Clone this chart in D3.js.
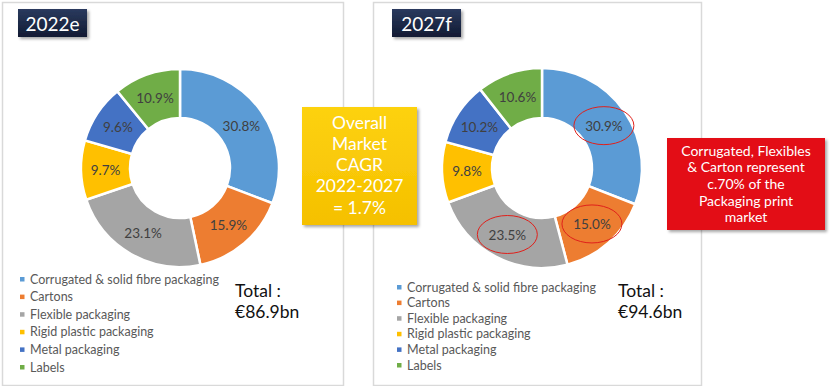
<!DOCTYPE html>
<html><head><meta charset="utf-8">
<script src="https://cdn.jsdelivr.net/npm/d3@7"></script>
<style>
html,body{margin:0;padding:0;background:#fff;}
svg{display:block;}
</style></head>
<body>
<svg id="chart" width="835" height="386"></svg>
<script>
const categories = ["Corrugated & solid fibre packaging","Cartons","Flexible packaging","Rigid plastic packaging","Metal packaging","Labels"];
const colors = ["#5B9BD5","#ED7D31","#A5A5A5","#FFC000","#4472C4","#70AD47"];
const values2022 = [30.8, 15.9, 23.1, 9.7, 9.6, 10.9];
const values2027 = [30.9, 15.0, 23.5, 9.8, 10.2, 10.6];
const years = ["2022e", "2027f"];
const totals = ["€86.9bn", "€94.6bn"];
const highlighted2027 = [0, 1, 2];
const cagrLines = ["Overall", "Market", "CAGR", "2022-2027", "= 1.7%"];
const noteLines = ["Corrugated, Flexibles", "& Carton represent", "c.70% of the", "Packaging print", "market"];

const FONT = "Lato, 'Open Sans', sans-serif";
const svg = d3.select("#chart");
const defs = svg.append("defs");
const f = defs.append("filter").attr("id","shadow").attr("x","-20%").attr("y","-20%").attr("width","150%").attr("height","150%");
f.append("feDropShadow").attr("dx",2).attr("dy",2).attr("stdDeviation",1.5).attr("flood-color","#000").attr("flood-opacity",0.35);
const g1 = defs.append("linearGradient").attr("id","navy").attr("x1",0).attr("y1",0).attr("x2",0).attr("y2",1);
g1.append("stop").attr("offset","0%").attr("stop-color","#2a3a5e");
g1.append("stop").attr("offset","100%").attr("stop-color","#111b33");
const g2 = defs.append("linearGradient").attr("id","gold").attr("x1",0).attr("y1",0).attr("x2",0).attr("y2",1);
g2.append("stop").attr("offset","0%").attr("stop-color","#fdd20f");
g2.append("stop").attr("offset","100%").attr("stop-color","#f5c000");

const panels = [
  {x:2, y:2, w:341, h:383, cx:180, cy:168, ro:99, ri:50, title:{x:18,y:9}, legX:22, legY:279, legStep:17.6, totX:235, totY:290},
  {x:373, y:2, w:328, h:383, cx:542, cy:168, ro:100, ri:50, title:{x:392,y:9}, legX:399, legY:287, legStep:15.6, totX:618, totY:290}
];
const datasets = [values2022, values2027];

panels.forEach((p, i) => {
  svg.append("rect").attr("x",p.x+0.5).attr("y",p.y+0.5).attr("width",p.w).attr("height",p.h)
    .attr("fill","#fff").attr("stroke","#d9d9d9").attr("stroke-width",1.5);
});

panels.forEach((p, i) => {
  const pie = d3.pie().sort(null).value(d => d)(datasets[i]);
  const arc = d3.arc().innerRadius(p.ri).outerRadius(p.ro);
  const labelArc = d3.arc().innerRadius((p.ri+p.ro)/2).outerRadius((p.ri+p.ro)/2);
  const g = svg.append("g").attr("transform",`translate(${p.cx},${p.cy})`);
  g.selectAll("path").data(pie).join("path")
    .attr("d", arc).attr("fill",(d,j)=>colors[j]).attr("stroke","#fff").attr("stroke-width",2.5);
  g.selectAll("text").data(pie).join("text")
    .attr("transform", d => `translate(${labelArc.centroid(d)})`)
    .attr("text-anchor","middle").attr("dominant-baseline","central")
    .attr("font-family",FONT).attr("font-size",13.5)
    .attr("fill","#404040")
    .text(d => d.data.toFixed(1) + "%");

  if (i === 1) {
    g.selectAll("ellipse").data(highlighted2027.map(k => pie[k])).join("ellipse")
      .attr("cx", d => labelArc.centroid(d)[0]).attr("cy", d => labelArc.centroid(d)[1])
      .attr("rx", 30).attr("ry", 19).attr("fill","none").attr("stroke","#e0201b").attr("stroke-width",1);
  }

  // title
  svg.append("rect").attr("x",p.title.x).attr("y",p.title.y).attr("width",69).attr("height",28)
    .attr("fill","url(#navy)").attr("filter","url(#shadow)");
  svg.append("text").attr("x",p.title.x+34.5).attr("y",p.title.y+14).attr("text-anchor","middle")
    .attr("dominant-baseline","central").attr("font-family",FONT).attr("font-size",19)
    .attr("fill","#fff").text(years[i]);

  // legend
  const leg = svg.append("g");
  categories.forEach((c, j) => {
    const y = p.legY + j*p.legStep;
    leg.append("rect").attr("x",p.legX-2).attr("y",y-2).attr("width",4.5).attr("height",4.5).attr("fill",colors[j]);
    leg.append("text").attr("x",p.legX+8).attr("y",y).attr("dominant-baseline","central")
      .attr("font-family",FONT).attr("font-size",12.5).attr("fill","#595959").text(c);
  });

  svg.append("text").attr("x",p.totX).attr("y",p.totY).attr("dominant-baseline","central")
    .attr("font-family",FONT).attr("font-size",17.5).attr("fill","#111").text("Total :");
  svg.append("text").attr("x",p.totX).attr("y",p.totY+21).attr("dominant-baseline","central")
    .attr("font-family",FONT).attr("font-size",17.5).attr("fill","#111").text(totals[i]);
});

// CAGR box
svg.append("rect").attr("x",302).attr("y",107).attr("width",115).attr("height",118)
  .attr("fill","url(#gold)").attr("filter","url(#shadow)");
cagrLines.forEach((t, j) => {
  svg.append("text").attr("x",359.5).attr("y",122 + j*21.3).attr("text-anchor","middle").attr("dominant-baseline","central")
    .attr("font-family",FONT).attr("font-size",17.5).attr("fill","#fff").text(t);
});

// Note box
svg.append("rect").attr("x",667).attr("y",138).attr("width",158).attr("height",92)
  .attr("fill","#e30a17").attr("filter","url(#shadow)");
noteLines.forEach((t, j) => {
  svg.append("text").attr("x",746).attr("y",150 + j*16.7).attr("text-anchor","middle").attr("dominant-baseline","central")
    .attr("font-family",FONT).attr("font-size",14).attr("fill","#fff").text(t);
});
</script>
</body></html>
